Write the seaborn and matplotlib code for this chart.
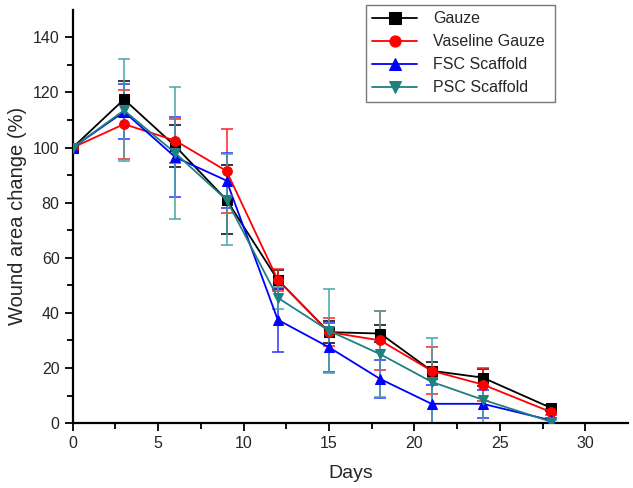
import numpy as np
import pandas as pd
import matplotlib
matplotlib.use("Agg")
import matplotlib.pyplot as plt
import seaborn as sns

# wound area over time for each dressing
days = [0, 3, 6, 9, 12, 15, 18, 21, 24, 28]
groups = ["Gauze", "Vaseline Gauze", "FSC Scaffold", "PSC Scaffold"]

gauze = [100, 117.5, 100.5, 81, 52, 33, 32.5, 19, 16.5, 5.5]
gauze_err = [0, 6.5, 7.5, 12.5, 3.5, 4, 3, 3, 3, 1]
vaseline = [100, 108.5, 102.5, 91.5, 52, 33, 30, 19, 14, 4]
vaseline_err = [0, 12.5, 8, 15.3, 4, 5, 10.8, 8.5, 6, 1]
fsc = [100, 113, 96.5, 88, 37.5, 27.5, 16, 7, 7, 1]
fsc_err = [0, 10, 14.5, 10, 11.6, 9, 7, 7, 5, 1]
psc = [100, 113.5, 98, 81, 45.5, 33.5, 25, 15, 8.5, 0.5]
psc_err = [0, 18.5, 24, 16.5, 4, 15.3, 15.5, 16, 8.5, 0.5]

values = [gauze, vaseline, fsc, psc]
errors = [gauze_err, vaseline_err, fsc_err, psc_err]
colors = ["#000000", "#ff0000", "#0000ff", "#1f8080"]
err_colors = ["#000000", "#ff2020", "#3030ff", "#4aa6a6"]
markers = ["s", "o", "^", "v"]

sns.set_theme(style="ticks")
plt.rcParams["font.family"] = ["Liberation Sans", "DejaVu Sans"]

fig = plt.figure(figsize=(6.33, 4.88), dpi=100)
ax = fig.add_axes([0.115, 0.133, 0.877, 0.847])

for name, y, e, c, ec, m in zip(groups, values, errors, colors, err_colors, markers):
    df = pd.DataFrame({"Days": days, "value": y})
    ax.errorbar(days, y, yerr=e, fmt="none", ecolor=ec, elinewidth=1.1,
                capsize=4, capthick=1.1, zorder=2)
    sns.lineplot(data=df, x="Days", y="value", ax=ax, color=c, marker=m,
                 markersize=7, markeredgecolor=c, linewidth=1.3,
                 label=name, zorder=3)

ax.set_xlim(0, 32.5)
ax.set_ylim(0, 150)
ax.set_xticks([0, 5, 10, 15, 20, 25, 30])
ax.set_xticks(np.arange(2.5, 32.5, 5), minor=True)
ax.set_yticks(np.arange(0, 141, 20))
ax.set_yticks(np.arange(10, 150, 20), minor=True)
ax.tick_params(axis="both", which="major", length=6, width=1.3,
               labelsize=11.5, color="black", direction="out")
ax.tick_params(axis="both", which="minor", length=4, width=1.3,
               color="black", direction="out")
for s in ["left", "bottom"]:
    ax.spines[s].set_linewidth(1.6)
    ax.spines[s].set_color("black")
sns.despine(ax=ax)

ax.set_xlabel("Days", fontsize=14, labelpad=10)
ax.set_ylabel("Wound area change (%)", fontsize=14.5, labelpad=4)

leg = ax.legend(loc="upper left", bbox_to_anchor=(0.578, 0.795, 0.299, 0.195),
                bbox_transform=fig.transFigure, mode="expand", fontsize=11.5,
                handlelength=2.8, handletextpad=1.0, borderaxespad=0,
                frameon=True, fancybox=False, markerscale=1.15,
                borderpad=0.4, labelspacing=0.5)
leg.get_frame().set_edgecolor("#555555")
leg.get_frame().set_linewidth(1.0)

fig.savefig("out.png", dpi=100)
